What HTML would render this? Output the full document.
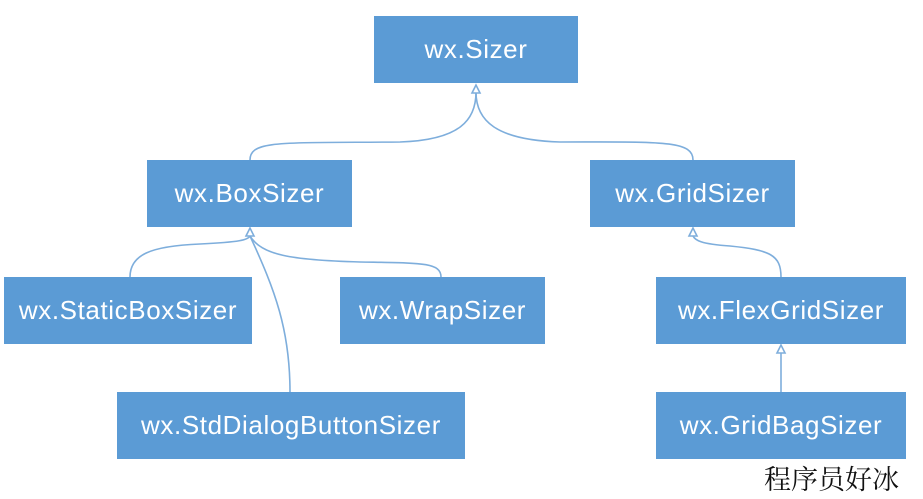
<!DOCTYPE html>
<html><head><meta charset="utf-8"><style>
html,body{margin:0;padding:0;background:#fff;}
body{width:923px;height:499px;position:relative;overflow:hidden;font-family:"Liberation Sans",sans-serif;}
.b{position:absolute;background:#5b9bd5;color:#fff;font-size:26px;display:flex;align-items:center;justify-content:center;letter-spacing:0.6px;}
svg{position:absolute;left:0;top:0;}
.wm{position:absolute;left:764px;top:458px;font-family:"Noto Serif CJK SC","Liberation Serif",serif;font-size:27px;color:#111;}
</style></head><body>
<svg width="923" height="499" fill="none" stroke="#7eaedc" stroke-width="1.6">
<path d="M250 160 C250 140 280 143 400 142 C460 140 476 120 476 92"/>
<path d="M693 160 C693 140 660 142 560 142 C495 140 476 120 476 92"/>
<path d="M130 277 C130 255 150 246 200 244 C240 242 248 240 250 236"/>
<path d="M441 277 C441 262 420 263 360 262 C290 260 262 255 250 236"/>
<path d="M290 392 C290 330 275 290 250 236"/>
<path d="M781 277 C781 255 770 250 730 246 C700 244 695 240 693 236"/>
<path d="M781 392 L781 353"/>
<polygon points="476,85 472,93 480,93" fill="#fff"/>
<polygon points="250,228 246,236 254,236" fill="#fff"/>
<polygon points="693,228 689,236 697,236" fill="#fff"/>
<polygon points="781,345 777,353 785,353" fill="#fff"/>
</svg>
<div class="b" style="left:374px;top:16px;width:204px;height:67px">wx.Sizer</div>
<div class="b" style="left:147px;top:160px;width:205px;height:67px">wx.BoxSizer</div>
<div class="b" style="left:590px;top:160px;width:205px;height:67px">wx.GridSizer</div>
<div class="b" style="left:4px;top:277px;width:248px;height:67px">wx.StaticBoxSizer</div>
<div class="b" style="left:340px;top:277px;width:205px;height:67px">wx.WrapSizer</div>
<div class="b" style="left:656px;top:277px;width:250px;height:67px">wx.FlexGridSizer</div>
<div class="b" style="left:117px;top:392px;width:348px;height:67px">wx.StdDialogButtonSizer</div>
<div class="b" style="left:656px;top:392px;width:250px;height:67px">wx.GridBagSizer</div>
<div class="wm">程序员好冰</div>
</body></html>
